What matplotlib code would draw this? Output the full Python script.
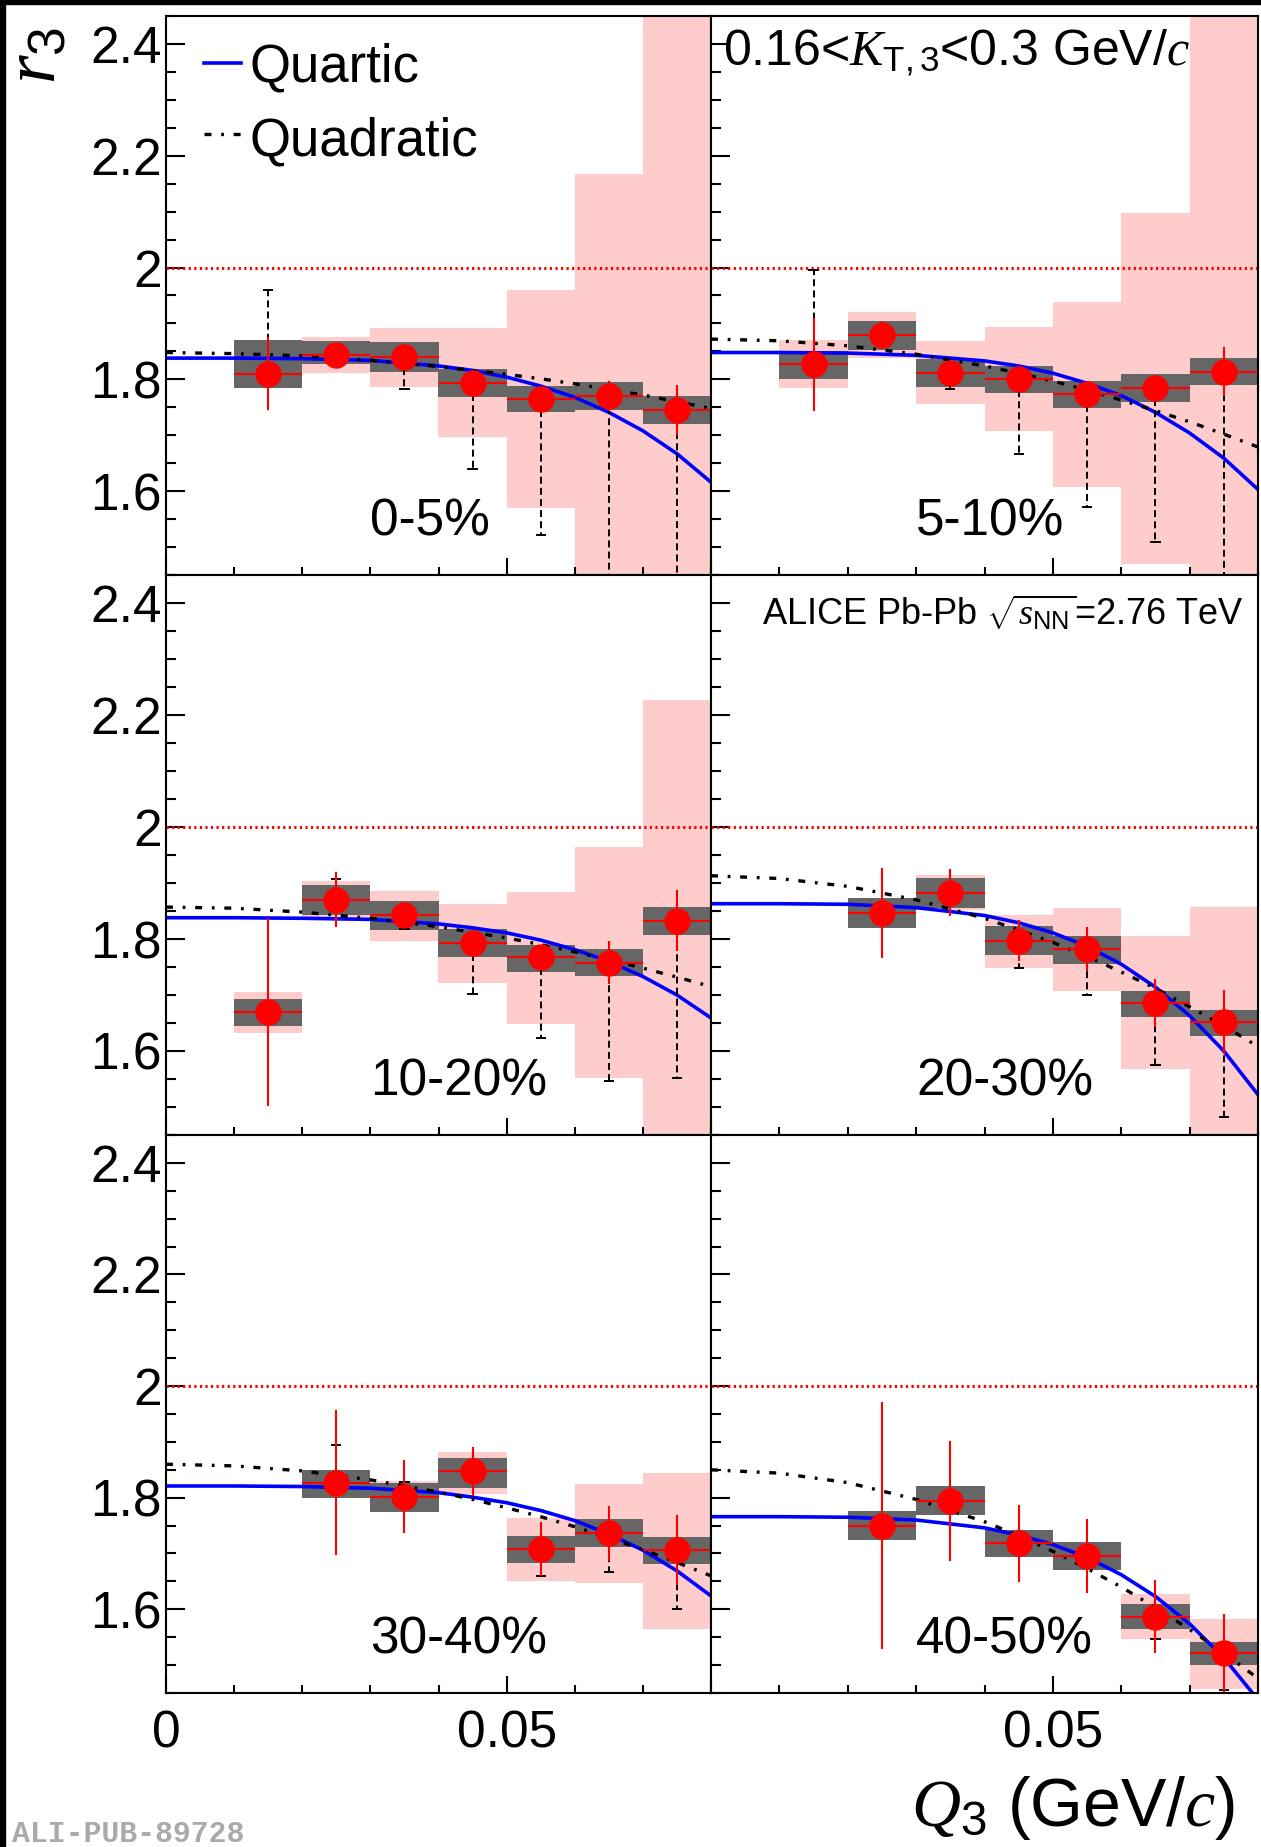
import matplotlib
matplotlib.use('Agg')
import matplotlib.pyplot as plt
from matplotlib.ticker import MultipleLocator, FixedLocator, FixedFormatter
from matplotlib.patches import Rectangle

plt.rcParams['font.family'] = ['Liberation Sans', 'DejaVu Sans']
plt.rcParams['mathtext.fontset'] = 'custom'
plt.rcParams['mathtext.rm'] = 'Liberation Sans'
plt.rcParams['mathtext.it'] = 'Liberation Serif:italic'
plt.rcParams['mathtext.bf'] = 'Liberation Sans:bold'
plt.rcParams['lines.scale_dashes'] = False

# centrality classes, one panel each
centralities = ["0-5%", "5-10%", "10-20%", "20-30%", "30-40%", "40-50%"]

# Q3 bin centres (GeV/c), bin width 0.01
q_bins = [0.015, 0.025, 0.035, 0.045, 0.055, 0.065, 0.075]
bin_width = 0.01

# r3 values per panel (None = no point)
r3 = [
    [1.810, 1.844, 1.840, 1.794, 1.764, 1.770, 1.745],
    [1.827, 1.880, 1.812, 1.801, 1.773, 1.784, 1.814],
    [1.669, 1.870, 1.842, 1.792, 1.767, 1.758, 1.833],
    [None, 1.846, 1.883, 1.797, 1.782, 1.686, 1.652],
    [None, 1.827, 1.802, 1.847, 1.708, 1.736, 1.706],
    [None, 1.750, 1.794, 1.718, 1.695, 1.587, 1.521],
]

# statistical errors (red bars)
r3_stat = [
    [0.065, 0.010, 0.010, 0.010, 0.020, 0.027, 0.044],
    [0.083, 0.025, 0.010, 0.010, 0.015, 0.020, 0.043],
    [0.168, 0.049, 0.020, 0.012, 0.020, 0.038, 0.055],
    [None, 0.080, 0.042, 0.037, 0.040, 0.043, 0.057],
    [None, 0.130, 0.066, 0.044, 0.049, 0.050, 0.063],
    [None, 0.222, 0.107, 0.069, 0.066, 0.065, 0.071],
]

# systematic band (dark grey boxes), lower / upper edges
sys_lo = [
    [1.784, 1.827, 1.814, 1.769, 1.741, 1.745, 1.720],
    [1.801, 1.853, 1.787, 1.775, 1.749, 1.760, 1.790],
    [1.645, 1.843, 1.816, 1.767, 1.741, 1.734, 1.808],
    [None, 1.820, 1.855, 1.771, 1.756, 1.661, 1.627],
    [None, 1.800, 1.774, 1.818, 1.683, 1.711, 1.681],
    [None, 1.725, 1.769, 1.693, 1.670, 1.564, 1.500],
]
sys_hi = [
    [1.870, 1.869, 1.866, 1.819, 1.788, 1.795, 1.770],
    [1.851, 1.904, 1.836, 1.824, 1.797, 1.810, 1.838],
    [1.693, 1.896, 1.867, 1.817, 1.790, 1.782, 1.858],
    [None, 1.873, 1.909, 1.824, 1.806, 1.707, 1.674],
    [None, 1.850, 1.827, 1.872, 1.732, 1.761, 1.729],
    [None, 1.776, 1.821, 1.743, 1.720, 1.610, 1.541],
]

# second systematic band (pink boxes), lower / upper edges
band_lo = [
    [1.784, 1.812, 1.786, 1.696, 1.570, 1.373, 0.900],
    [1.784, 1.839, 1.756, 1.708, 1.607, 1.470, 0.900],
    [1.633, 1.836, 1.797, 1.722, 1.648, 1.551, 1.440],
    [None, 1.820, 1.852, 1.749, 1.708, 1.567, 1.446],
    [None, 1.800, 1.774, 1.807, 1.651, 1.648, 1.564],
    [None, 1.725, 1.769, 1.693, 1.670, 1.546, 1.458],
]
band_hi = [
    [1.870, 1.876, 1.891, 1.891, 1.959, 2.167, 2.600],
    [1.870, 1.921, 1.868, 1.893, 1.939, 2.098, 2.600],
    [1.705, 1.904, 1.885, 1.862, 1.884, 1.965, 2.227],
    [None, 1.873, 1.914, 1.843, 1.855, 1.805, 1.858],
    [None, 1.850, 1.830, 1.882, 1.763, 1.825, 1.844],
    [None, 1.776, 1.821, 1.743, 1.720, 1.627, 1.582],
]

# end of the dashed black error bars (None = not drawn)
dash_end = [
    [1.959, None, 1.782, 1.640, 1.522, 1.300, 1.300],
    [1.995, None, 1.783, 1.667, 1.571, 1.509, 1.300],
    [None, 1.908, 1.817, 1.702, 1.623, 1.546, 1.551],
    [None, None, None, 1.749, 1.700, 1.575, 1.483],
    [None, 1.895, 1.829, None, 1.659, 1.666, 1.600],
    [None, None, None, None, None, 1.546, 1.455],
]

# fit curves
q_curve = [0.0, 0.01, 0.02, 0.03, 0.04, 0.045, 0.05, 0.055, 0.06, 0.065, 0.07, 0.075, 0.08]
quartic = [
    [1.838, 1.838, 1.837, 1.834, 1.824, 1.816, 1.804, 1.788, 1.768, 1.741, 1.708, 1.667, 1.616],
    [1.848, 1.848, 1.847, 1.843, 1.833, 1.824, 1.811, 1.793, 1.771, 1.741, 1.704, 1.659, 1.603],
    [1.838, 1.838, 1.837, 1.835, 1.827, 1.820, 1.811, 1.798, 1.781, 1.760, 1.733, 1.700, 1.659],
    [1.863, 1.863, 1.862, 1.856, 1.842, 1.829, 1.811, 1.787, 1.755, 1.714, 1.663, 1.600, 1.522],
    [1.821, 1.821, 1.820, 1.817, 1.809, 1.801, 1.791, 1.777, 1.759, 1.735, 1.706, 1.669, 1.624],
    [1.766, 1.766, 1.765, 1.760, 1.746, 1.733, 1.716, 1.693, 1.662, 1.623, 1.574, 1.513, 1.438],
]
quadratic = [
    [1.848, 1.846, 1.842, 1.834, 1.823, 1.816, 1.809, 1.801, 1.792, 1.782, 1.772, 1.760, 1.748],
    [1.872, 1.869, 1.860, 1.845, 1.824, 1.811, 1.797, 1.781, 1.763, 1.744, 1.724, 1.702, 1.679],
    [1.857, 1.855, 1.848, 1.837, 1.822, 1.812, 1.802, 1.790, 1.777, 1.763, 1.748, 1.732, 1.715],
    [1.913, 1.908, 1.894, 1.870, 1.837, 1.816, 1.794, 1.769, 1.741, 1.712, 1.679, 1.645, 1.608],
    [1.860, 1.857, 1.848, 1.832, 1.810, 1.797, 1.782, 1.766, 1.748, 1.728, 1.707, 1.684, 1.660],
    [1.850, 1.844, 1.827, 1.797, 1.757, 1.732, 1.704, 1.673, 1.640, 1.603, 1.564, 1.522, 1.476],
]

y_ticks = [1.6, 1.8, 2.0, 2.2, 2.4]
y_ticklabels = ['1.6', '1.8', '2', '2.2', '2.4']
x_ticks = [0.0, 0.05]

PINK = '#ffcccc'
GREY = '#666666'
DASHDOT = (0, (5, 7, 2, 7))

W, H = 1261, 1847


def pick(row, idx):
    return [row[k] for k in idx]


def drawPanel(ax, i, col, row):
    idx = [k for k in range(len(q_bins)) if r3[i][k] is not None]
    x = pick(q_bins, idx)
    y = pick(r3[i], idx)

    # boxes
    lo = pick(band_lo[i], idx)
    hi = pick(band_hi[i], idx)
    ax.bar(x, [h - l for h, l in zip(hi, lo)], bottom=lo, width=bin_width,
           color=PINK, linewidth=0, zorder=1)
    lo = pick(sys_lo[i], idx)
    hi = pick(sys_hi[i], idx)
    ax.bar(x, [h - l for h, l in zip(hi, lo)], bottom=lo, width=bin_width,
           color=GREY, linewidth=0, zorder=2)

    ax.axhline(2.0, color='red', linestyle=(0, (1.6, 2.4)), linewidth=2.2, zorder=3)

    ax.plot(q_curve, quartic[i], color='blue', linewidth=2.6, zorder=4)
    ax.plot(q_curve, quadratic[i], color='black', linestyle=DASHDOT, linewidth=2.4, zorder=4)

    # dashed one-sided bars
    for k in idx:
        if dash_end[i][k] is None:
            continue
        ax.plot([q_bins[k], q_bins[k]], [r3[i][k], dash_end[i][k]], color='black',
                linestyle=(0, (5, 3)), linewidth=1.4, zorder=5)
        ax.plot([q_bins[k] - 0.0006, q_bins[k] + 0.0006], [dash_end[i][k]] * 2,
                color='black', linewidth=1.4, zorder=5)

    ax.errorbar(x, y, yerr=pick(r3_stat[i], idx), xerr=bin_width / 2, fmt='o',
                color='red', ecolor='red', markersize=18, elinewidth=1.5,
                capsize=0, zorder=6)

    ax.set_xlim(0, 0.08)
    ax.set_ylim(1.45, 2.45)

    ax.yaxis.set_major_locator(FixedLocator(y_ticks))
    ax.yaxis.set_minor_locator(MultipleLocator(0.05))
    ax.xaxis.set_major_locator(FixedLocator(x_ticks))
    ax.xaxis.set_minor_locator(MultipleLocator(0.01))
    ax.tick_params(axis='y', which='major', direction='in', length=14, width=1.5,
                   left=True, right=False, labelsize=37, pad=3)
    ax.tick_params(axis='y', which='minor', direction='in', length=7, width=1.5,
                   left=True, right=False)
    ax.tick_params(axis='x', which='major', direction='in', length=12, width=1.5,
                   bottom=True, top=False, labelsize=37, pad=12)
    ax.tick_params(axis='x', which='minor', direction='in', length=6, width=1.5,
                   bottom=True, top=False)

    if col == 0:
        ax.yaxis.set_major_formatter(FixedFormatter(y_ticklabels))
    else:
        ax.tick_params(axis='y', labelleft=False)

    if row == 2:
        labels = ['0', '0.05'] if col == 0 else ['', '0.05']
        ax.xaxis.set_major_formatter(FixedFormatter(labels))
    else:
        ax.tick_params(axis='x', labelbottom=False)

    for s in ax.spines.values():
        s.set_linewidth(1.5)
        s.set_zorder(7)

    ax.text(0.030, 1.52, centralities[i], fontsize=37, ha='left', va='baseline', zorder=8)


fig = plt.figure(figsize=(W / 100, H / 100), dpi=100)

col_x = [(166, 545), (711, 547)]
row_y = [(16, 575), (575, 1135), (1135, 1693)]

axes = []
for i in range(6):
    row, col = divmod(i, 2)
    x0, w = col_x[col]
    top, bot = row_y[row]
    ax = fig.add_axes([x0 / W, 1 - bot / H, w / W, (bot - top) / H])
    drawPanel(ax, i, col, row)
    axes.append(ax)

# legend drawn by hand in the first panel
ax = axes[0]
ax.plot([0.0697, 0.1376], [0.916, 0.916], color='blue', linewidth=2.6, transform=ax.transAxes, zorder=8)
ax.text(0.154, 0.8837, 'Quartic', fontsize=38, ha='left', va='baseline', transform=ax.transAxes)
ax.plot([0.0697, 0.1376], [0.789, 0.789], color='black', linestyle=DASHDOT, linewidth=2.4,
        transform=ax.transAxes, zorder=8)
ax.text(0.154, 0.7513, 'Quadratic', fontsize=38, ha='left', va='baseline', transform=ax.transAxes)

axes[1].text(0.022, 0.9123, r'0.16<$K_{\mathrm{T,3}}$<0.3 GeV/$c$', fontsize=36,
             ha='left', va='baseline', transform=axes[1].transAxes, zorder=8)
axes[3].text(0.9744, 0.9107, r'ALICE Pb-Pb $\sqrt{s_{\mathrm{NN}}}$=2.76 TeV', fontsize=26,
             ha='right', va='baseline', transform=axes[3].transAxes, zorder=8)

# axis titles
fig.text(1235 / W, 21 / H, r'$Q_{\mathrm{3}}$ (GeV/$c$)', fontsize=49, ha='right', va='baseline')
fig.text(70 / W, 1 - 27 / H, r'$r_{\mathrm{3}}$', fontsize=53, rotation=90, ha='right', va='top')

fig.text(12 / W, 5 / H, 'ALI-PUB-89728', family='Liberation Mono', fontweight='bold',
         color='#aaaaaa', fontsize=21.5, ha='left', va='baseline')

# black edges of the original scan
fig.add_artist(Rectangle((0, 1 - 4 / H), 1, 4 / H, transform=fig.transFigure, color='black'))
fig.add_artist(Rectangle((0, 0), 5 / W, 1, transform=fig.transFigure, color='black'))

fig.savefig('out.png', dpi=100)
